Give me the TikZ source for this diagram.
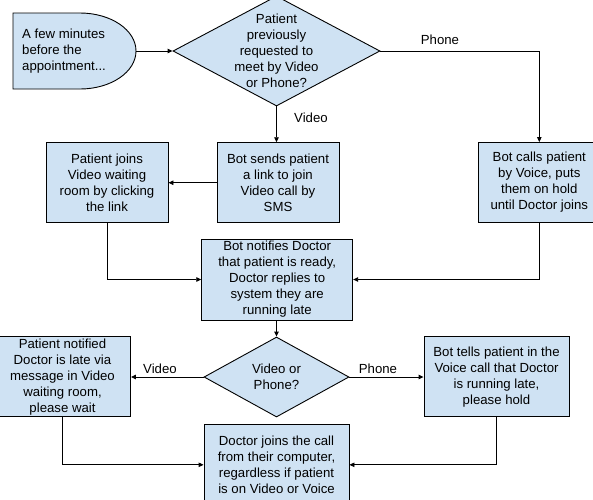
\documentclass[tikz,border=0pt]{standalone}
\usepackage{fontspec}
\setmainfont{Liberation Sans}
\usetikzlibrary{shapes.geometric,arrows.meta}
\definecolor{boxblue}{HTML}{CFE2F3}
\tikzset{
  every node/.style={font=\fontsize{13.2}{16}\selectfont},
  box/.style={draw=black, fill=boxblue, line width=0.9pt, align=center, inner sep=0pt},
  dia/.style={draw=black, fill=boxblue, line width=0.9pt, diamond, inner sep=0pt},
  conn/.style={draw=black, line width=0.9pt, -{Triangle[length=5pt,width=4.5pt]}},
  lbl/.style={inner sep=0pt}
}
\begin{document}
\begin{tikzpicture}[x=1pt,y=-1pt]
\useasboundingbox (0,0) rectangle (593,499);
\clip (0,0) rectangle (593,499);
% start terminal (delay shape)
\draw[draw=black, fill=boxblue, line width=0.9pt] (13,13) -- (80,13) arc[start angle=-90, end angle=90, x radius=56, y radius=38] -- (13,89) -- cycle;
\node[minimum width=123pt, minimum height=76pt, inner sep=0pt] (start) at (74.5,51) {};
\node[anchor=west, align=left, inner sep=0pt] (starttext) at (22,51) {A few minutes\\before the\\appointment...};
% diamonds
\node[dia, minimum width=207pt, minimum height=110pt] (d1) at (276.5,51) {};
\node[align=center, inner sep=0pt] (d1text) at (276.5,51) {Patient\\previously\\requested to\\meet by Video\\or Phone?};
\node[dia, minimum width=145pt, minimum height=80pt] (d2) at (276.5,377) {};
\node[align=center, inner sep=0pt] (d2text) at (276.5,377) {Video or\\Phone?};
% boxes
\node[box, minimum width=122pt, minimum height=80pt] (sends) at (278,182.7) {Bot sends patient\\a link to join\\Video call by\\SMS};
\node[box, minimum width=122pt, minimum height=80pt] (joins) at (107,182.7) {Patient joins\\Video waiting\\room by clicking\\the link};
\node[box, minimum width=122pt, minimum height=80pt] (calls) at (539.3,182.5) {Bot calls patient\\by Voice, puts\\them on hold\\until Doctor joins};
\node[box, minimum width=151pt, minimum height=81pt] (notify) at (277.2,279.5) {Bot notifies Doctor\\that patient is ready,\\Doctor replies to\\system they are\\running late};
\node[box, minimum width=136pt, minimum height=80pt] (late) at (62.5,376.7) {Patient notified\\Doctor is late via\\message in Video\\waiting room,\\please wait};
\node[box, minimum width=145pt, minimum height=80pt] (tells) at (496.5,376.7) {Bot tells patient in the\\Voice call that Doctor\\is running late,\\please hold};
\node[box, minimum width=145pt, minimum height=81pt] (dj) at (276.5,464.8) {Doctor joins the call\\from their computer,\\regardless if patient\\is on Video or Voice};
% connectors
\draw[conn] (start.east) -- (d1.west);
\draw[conn] (d1.east) -| (calls.north);
\draw[conn] (d1.south) -- (d1.south |- sends.north);
\draw[conn] (sends.west) -- (joins.east |- sends.west);
\draw[conn] (joins.south) |- (notify.west);
\draw[conn] (calls.south) |- (notify.east);
\draw[conn] (notify.south -| d2.north) -- (d2.north);
\draw[conn] (d2.west) -- (late.east |- d2.west);
\draw[conn] (d2.east) -- (tells.west |- d2.east);
\draw[conn] (late.south) |- (dj.west);
\draw[conn] (tells.south) |- (dj.east);
% labels
\node[lbl] (lphone1) at (440,40) {Phone};
\node[lbl] (lvideo1) at (311,118) {Video};
\node[lbl] (lvideo2) at (160,369) {Video};
\node[lbl] (lphone2) at (378,369) {Phone};
\end{tikzpicture}
\end{document}
